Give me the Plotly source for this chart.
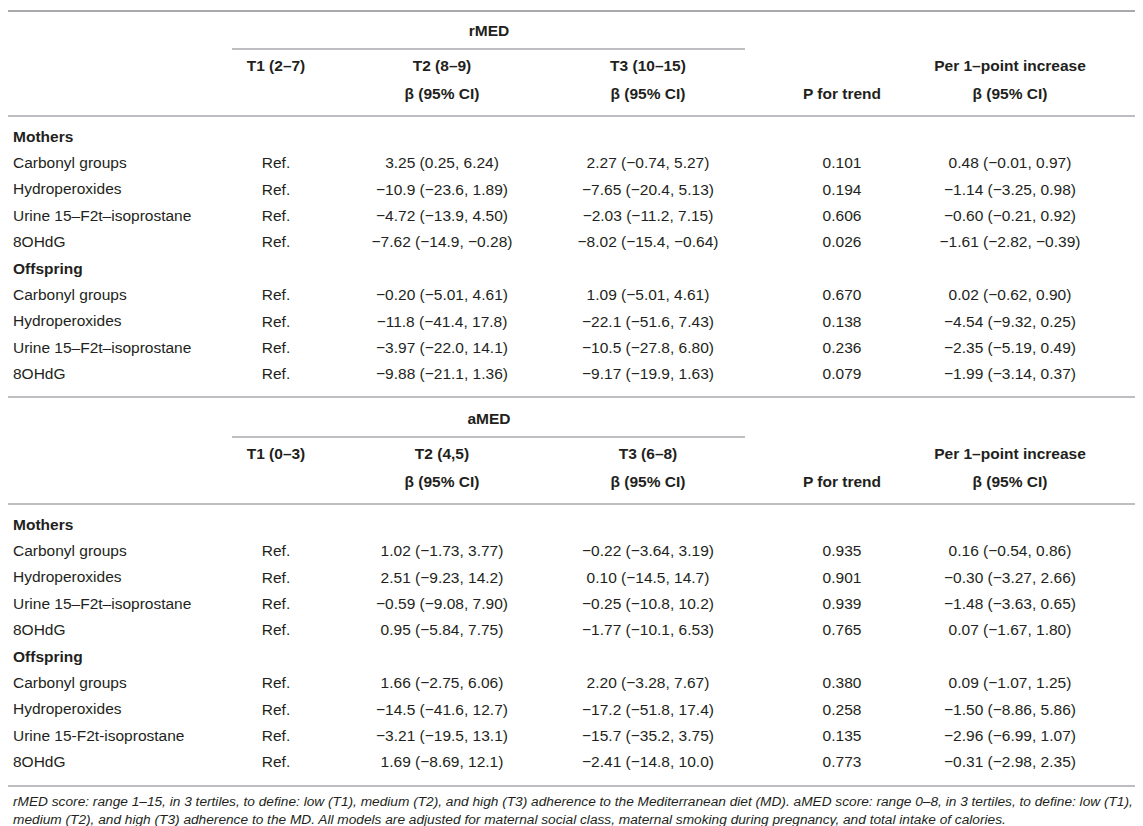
import plotly.graph_objects as go

# ---------------- table data ----------------
markers = ["Carbonyl groups", "Hydroperoxides", "Urine 15–F2t–isoprostane", "8OHdG"]
markers_off_amed = ["Carbonyl groups", "Hydroperoxides", "Urine 15-F2t-isoprostane", "8OHdG"]

# rMED, mothers
rmed_m_t2 = ["3.25 (0.25, 6.24)", "−10.9 (−23.6, 1.89)", "−4.72 (−13.9, 4.50)", "−7.62 (−14.9, −0.28)"]
rmed_m_t3 = ["2.27 (−0.74, 5.27)", "−7.65 (−20.4, 5.13)", "−2.03 (−11.2, 7.15)", "−8.02 (−15.4, −0.64)"]
rmed_m_p = ["0.101", "0.194", "0.606", "0.026"]
rmed_m_per = ["0.48 (−0.01, 0.97)", "−1.14 (−3.25, 0.98)", "−0.60 (−0.21, 0.92)", "−1.61 (−2.82, −0.39)"]
# rMED, offspring
rmed_o_t2 = ["−0.20 (−5.01, 4.61)", "−11.8 (−41.4, 17.8)", "−3.97 (−22.0, 14.1)", "−9.88 (−21.1, 1.36)"]
rmed_o_t3 = ["1.09 (−5.01, 4.61)", "−22.1 (−51.6, 7.43)", "−10.5 (−27.8, 6.80)", "−9.17 (−19.9, 1.63)"]
rmed_o_p = ["0.670", "0.138", "0.236", "0.079"]
rmed_o_per = ["0.02 (−0.62, 0.90)", "−4.54 (−9.32, 0.25)", "−2.35 (−5.19, 0.49)", "−1.99 (−3.14, 0.37)"]
# aMED, mothers
amed_m_t2 = ["1.02 (−1.73, 3.77)", "2.51 (−9.23, 14.2)", "−0.59 (−9.08, 7.90)", "0.95 (−5.84, 7.75)"]
amed_m_t3 = ["−0.22 (−3.64, 3.19)", "0.10 (−14.5, 14.7)", "−0.25 (−10.8, 10.2)", "−1.77 (−10.1, 6.53)"]
amed_m_p = ["0.935", "0.901", "0.939", "0.765"]
amed_m_per = ["0.16 (−0.54, 0.86)", "−0.30 (−3.27, 2.66)", "−1.48 (−3.63, 0.65)", "0.07 (−1.67, 1.80)"]
# aMED, offspring
amed_o_t2 = ["1.66 (−2.75, 6.06)", "−14.5 (−41.6, 12.7)", "−3.21 (−19.5, 13.1)", "1.69 (−8.69, 12.1)"]
amed_o_t3 = ["2.20 (−3.28, 7.67)", "−17.2 (−51.8, 17.4)", "−15.7 (−35.2, 3.75)", "−2.41 (−14.8, 10.0)"]
amed_o_p = ["0.380", "0.258", "0.135", "0.773"]
amed_o_per = ["0.09 (−1.07, 1.25)", "−1.50 (−8.86, 5.86)", "−2.96 (−6.99, 1.07)", "−0.31 (−2.98, 2.35)"]

rmed_tertiles = ["T1 (2–7)", "T2 (8–9)", "T3 (10–15)"]
amed_tertiles = ["T1 (0–3)", "T2 (4,5)", "T3 (6–8)"]

footnote = ["rMED score: range 1–15, in 3 tertiles, to define: low (T1), medium (T2), and high (T3) "
            "adherence to the Mediterranean diet (MD). aMED score: range 0–8, in 3 tertiles, to define: low (T1),",
            "medium (T2), and high (T3) adherence to the MD. All models are adjusted for maternal social class, "
            "maternal smoking during pregnancy, and total intake of calories."]

# ---------------- layout constants (pixels) ----------------
W, H = 1143, 826
FONT = "Liberation Sans, Arial, Helvetica, sans-serif"
TXT = "#231f20"
LINE = "#a7a9ac"
FS = 15.5
X_LAB, X_T1, X_T2, X_T3, X_P, X_PER = 3, 268, 434, 640, 834, 1002
ROW = 26.4

fig = go.Figure()
shapes = []


def txt(xs, ys, labels, bold=False, size=FS):
    if bold:
        labels = ["<b>%s</b>" % s for s in labels]
    fig.add_trace(go.Scatter(x=xs, y=ys, text=labels, mode="text", textposition="middle center",
                             textfont=dict(family=FONT, size=size, color=TXT),
                             cliponaxis=False, hoverinfo="skip", showlegend=False))


def left(y, label, bold=False):
    # row labels sit flush left, so use annotations anchored at their left edge
    fig.add_annotation(x=X_LAB, y=y - 2, xref="x", yref="y", showarrow=False,
                       text="<b>%s</b>" % label if bold else label,
                       xanchor="left", yanchor="middle",
                       font=dict(family=FONT, size=FS, color=TXT))


def hline(y, x0=0, x1=W, w=1.6):
    shapes.append(dict(type="line", xref="x", yref="y", x0=x0, x1=x1, y0=y, y1=y,
                       line=dict(color=LINE, width=w)))


def block(top, name, tertiles, m_cols, o_cols, o_labels):
    # header rows
    txt([481], [top + 21], [name], bold=True)
    hline(top + 38, 224, 737)
    txt([X_T1, X_T2, X_T3, X_PER], [top + 56] * 4, tertiles + ["Per 1–point increase"], bold=True)
    txt([X_T2, X_T3, X_P, X_PER], [top + 84] * 4,
        ["β (95% CI)", "β (95% CI)", "P for trend", "β (95% CI)"], bold=True)
    hline(top + 105)
    y = top + 127
    for grp, cols, labs in [("Mothers", m_cols, markers), ("Offspring", o_cols, o_labels)]:
        left(y, grp, bold=True)
        ys = [y + ROW * (i + 1) for i in range(len(labs))]
        for yy, lab in zip(ys, labs):
            left(yy, lab)
        txt([X_T1] * len(labs), ys, ["Ref."] * len(labs))
        for xc, col in zip([X_T2, X_T3, X_P, X_PER], cols):
            txt([xc] * len(col), ys, col)
        y = ys[-1] + ROW


hline(3, w=2)
block(3, "rMED", rmed_tertiles,
      [rmed_m_t2, rmed_m_t3, rmed_m_p, rmed_m_per],
      [rmed_o_t2, rmed_o_t3, rmed_o_p, rmed_o_per], markers)
hline(389)
block(391, "aMED", amed_tertiles,
      [amed_m_t2, amed_m_t3, amed_m_p, amed_m_per],
      [amed_o_t2, amed_o_t3, amed_o_p, amed_o_per], markers_off_amed)
hline(778)

for i, line in enumerate(footnote):
    fig.add_annotation(x=3, y=793 + 18.5 * i, xref="x", yref="y", text="<i>%s</i>" % line,
                       showarrow=False, xanchor="left", yanchor="middle", align="left",
                       font=dict(family=FONT, size=13.7, color=TXT))

fig.update_layout(
    width=W, height=H, margin=dict(l=0, r=0, t=0, b=0),
    paper_bgcolor="white", plot_bgcolor="white", shapes=shapes,
    xaxis=dict(range=[0, W], visible=False, fixedrange=True),
    yaxis=dict(range=[H, 0], visible=False, fixedrange=True),
)
fig.write_html("out.html")
